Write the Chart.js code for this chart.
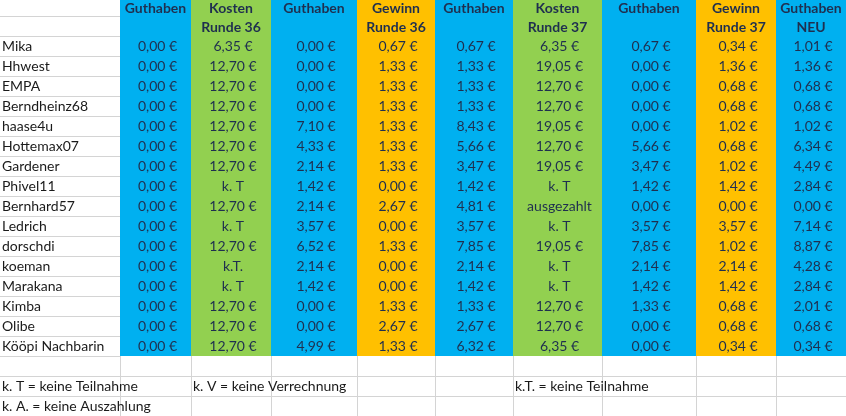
<!DOCTYPE html>
<html><head><meta charset="utf-8">
<script src="https://cdn.jsdelivr.net/npm/chart.js@4/dist/chart.umd.min.js"></script>
<style>html,body{margin:0;padding:0;background:#fff}#w{width:846px;height:416px}</style>
</head><body><div id="w"><canvas id="c"></canvas></div>
<script>
// ---- data ----
const headers1 = ["", "Guthaben", "Kosten", "Guthaben", "Gewinn", "Guthaben", "Kosten", "Guthaben", "Gewinn", "Guthaben"];
const headers2 = ["", "", "Runde 36", "", "Runde 36", "", "Runde 37", "", "Runde 37", "NEU"];
const names = ["Mika","Hhwest","EMPA","Berndheinz68","haase4u","Hottemax07","Gardener","Phivel11","Bernhard57","Ledrich","dorschdi","koeman","Marakana","Kimba","Olibe","Kööpi Nachbarin"];
const guthaben1 = ["0,00 €","0,00 €","0,00 €","0,00 €","0,00 €","0,00 €","0,00 €","0,00 €","0,00 €","0,00 €","0,00 €","0,00 €","0,00 €","0,00 €","0,00 €","0,00 €"];
const kosten36 = ["6,35 €","12,70 €","12,70 €","12,70 €","12,70 €","12,70 €","12,70 €","k. T","12,70 €","k. T","12,70 €","k.T.","k. T","12,70 €","12,70 €","12,70 €"];
const guthaben2 = ["0,00 €","0,00 €","0,00 €","0,00 €","7,10 €","4,33 €","2,14 €","1,42 €","2,14 €","3,57 €","6,52 €","2,14 €","1,42 €","0,00 €","0,00 €","4,99 €"];
const gewinn36 = ["0,67 €","1,33 €","1,33 €","1,33 €","1,33 €","1,33 €","1,33 €","0,00 €","2,67 €","0,00 €","1,33 €","0,00 €","0,00 €","1,33 €","2,67 €","1,33 €"];
const guthaben3 = ["0,67 €","1,33 €","1,33 €","1,33 €","8,43 €","5,66 €","3,47 €","1,42 €","4,81 €","3,57 €","7,85 €","2,14 €","1,42 €","1,33 €","2,67 €","6,32 €"];
const kosten37 = ["6,35 €","19,05 €","12,70 €","12,70 €","19,05 €","12,70 €","19,05 €","k. T","ausgezahlt","k. T","19,05 €","k. T","k. T","12,70 €","12,70 €","6,35 €"];
const guthaben4 = ["0,67 €","0,00 €","0,00 €","0,00 €","0,00 €","5,66 €","3,47 €","1,42 €","0,00 €","3,57 €","7,85 €","2,14 €","1,42 €","1,33 €","0,00 €","0,00 €"];
const gewinn37 = ["0,34 €","1,36 €","0,68 €","0,68 €","1,02 €","0,68 €","1,02 €","1,42 €","0,00 €","3,57 €","1,02 €","2,14 €","1,42 €","0,68 €","0,68 €","0,34 €"];
const guthabenNeu = ["1,01 €","1,36 €","0,68 €","0,68 €","1,02 €","6,34 €","4,49 €","2,84 €","0,00 €","7,14 €","8,87 €","4,28 €","2,84 €","2,01 €","0,68 €","0,34 €"];
const footnotes = [["k. T = keine Teilnahme",0,0],["k. V = keine Verrechnung",2,0],["k.T. = keine Teilnahme",6,0],["k. A. = keine Auszahlung",0,1]];

// ---- layout / style ----
const colEdges = [0,120,191,271,357,435,513,602,696,776,846];
const colColors = [null,"#00B0F0","#92D050","#00B0F0","#FFC000","#00B0F0","#92D050","#00B0F0","#FFC000","#00B0F0"];
const rowH = 20, headH = 36, blockBottom = 356, totalH = 416;
const columns = [names,guthaben1,kosten36,guthaben2,gewinn36,guthaben3,kosten37,guthaben4,gewinn37,guthabenNeu];
const FONT = "Lato, 'Liberation Sans', sans-serif";

const tablePlugin = {
  id:'table',
  beforeDatasetsDraw(chart){
    const {ctx, scales:{x,y}} = chart;
    const X = v=>x.getPixelForValue(v), Y = v=>y.getPixelForValue(v);
    ctx.save();
    // grid lines
    ctx.strokeStyle="#D4D4D4"; ctx.lineWidth=1;
    for(let r=16; r<=totalH; r+= (r<headH?20:20)){
      ctx.beginPath();
      const yy=Math.round(Y(r))+0.5;
      ctx.moveTo(X(0),yy); ctx.lineTo(X(r>blockBottom?846:colEdges[1]),yy); ctx.stroke();
    }
    for(const e of colEdges.slice(1,-1)){
      ctx.beginPath(); const xx=Math.round(X(e))+0.5;
      ctx.moveTo(xx,Y(blockBottom)); ctx.lineTo(xx,Y(totalH)); ctx.stroke();
    }
    // colored columns
    for(let c=1;c<colColors.length;c++){
      ctx.fillStyle=colColors[c];
      ctx.fillRect(X(colEdges[c]),Y(0),X(colEdges[c+1])-X(colEdges[c]),Y(blockBottom)-Y(0));
    }
    ctx.textBaseline="middle";
    // headers
    ctx.font="bold 14px "+FONT; ctx.fillStyle="#1F2F4F"; ctx.textAlign="center";
    for(let c=1;c<headers1.length;c++){
      const cx=(X(colEdges[c])+X(colEdges[c+1]))/2;
      ctx.fillText(headers1[c],cx,Y(8)); ctx.fillText(headers2[c],cx,Y(27));
    }
    // body
    ctx.font="14px "+FONT;
    for(let c=0;c<columns.length;c++){
      columns[c].forEach((v,i)=>{
        const cy=Y(headH+rowH*i+10);
        if(c===0){ctx.textAlign="left"; ctx.fillStyle="#1a1a1a"; ctx.fillText(v,X(2),cy);}
        else{ctx.textAlign="center"; ctx.fillStyle="#1F2F4F"; ctx.fillText(v,(X(colEdges[c])+X(colEdges[c+1]))/2+2,cy);}
      });
    }
    ctx.textAlign="left"; ctx.fillStyle="#1a1a1a";
    for(const [t,c,r] of footnotes){ ctx.fillText(t,X(colEdges[c]+2),Y(blockBottom+rowH*(r+1)+10)); }
    ctx.restore();
  }
};

new Chart(document.getElementById('c'),{
  type:'scatter',
  data:{datasets:[{data:[]}]},
  options:{responsive:true,maintainAspectRatio:false,animation:false,
    layout:{padding:0},
    plugins:{legend:{display:false},tooltip:{enabled:false}},
    scales:{x:{type:'linear',min:0,max:846,display:false},
            y:{type:'linear',min:0,max:416,reverse:true,display:false}}},
  plugins:[tablePlugin]
});
</script></body></html>
